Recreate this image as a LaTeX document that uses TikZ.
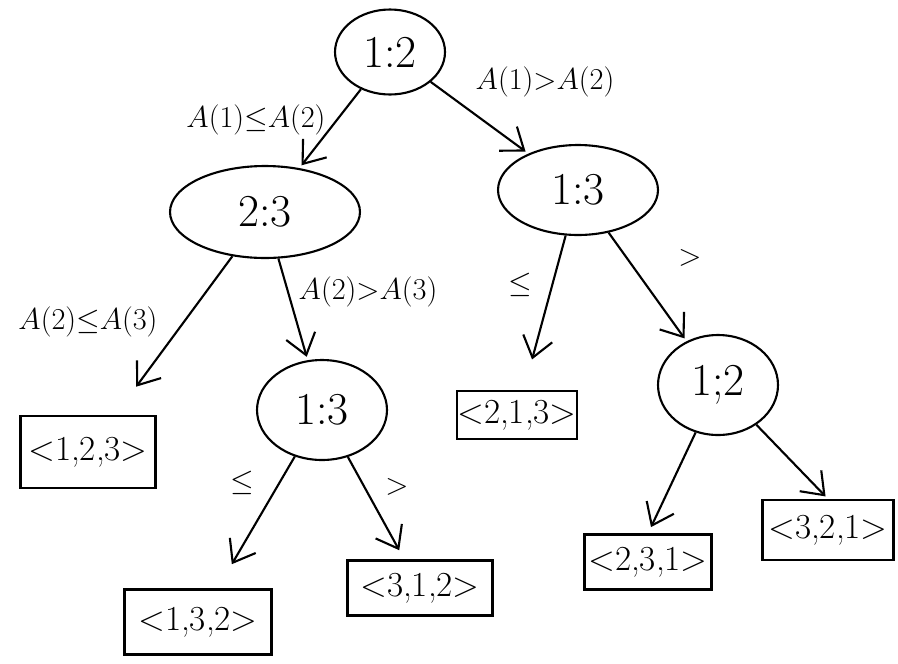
\documentclass[tikz,border=0pt]{standalone}
\usetikzlibrary{shapes.geometric,arrows.meta}
\begin{document}
\begin{tikzpicture}[x=0.02cm,y=-0.02cm,
  line width=1.2pt,
  ell/.style={draw,ellipse,inner sep=0pt,font=\fontsize{26}{28}\selectfont},
  leaf/.style={draw,rectangle,inner sep=0pt,font=\fontsize{20}{22}\selectfont},
  lbl/.style={font=\fontsize{17}{19}\selectfont},
  arr/.style={-{Straight Barb[length=4mm,width=6mm]},shorten >=2pt}]
\useasboundingbox (0,0) rectangle (898,663);
% decision nodes
\node[ell,minimum width=2.2cm,minimum height=1.7cm] (root) at (390,52) {1:2};
\node[ell,minimum width=3.8cm,minimum height=1.84cm] (n23) at (265,212) {2:3};
\node[ell,minimum width=3.2cm,minimum height=1.8cm] (n13r) at (578,190) {1:3};
\node[ell,minimum width=2.6cm,minimum height=2.0cm] (n13l) at (322,410) {1:3};
\node[ell,minimum width=2.4cm,minimum height=2.0cm] (n12) at (718,385) {1;2};
% leaves
\node[leaf,minimum width=2.7cm,minimum height=1.44cm] (l123) at (88,452) {<1,2,3>};
\node[leaf,minimum width=2.3cm,minimum height=0.96cm] (l213) at (517,415) {<2,1,3>};
\node[leaf,minimum width=2.94cm,minimum height=1.3cm] (l132) at (198,622) {<1,3,2>};
\node[leaf,minimum width=2.9cm,minimum height=1.1cm] (l312) at (420,588) {<3,1,2>};
\node[leaf,minimum width=2.54cm,minimum height=1.1cm] (l231) at (648,562) {<2,3,1>};
\node[leaf,minimum width=2.62cm,minimum height=1.2cm] (l321) at (828,530) {<3,2,1>};
% edges
\draw[arr] (root) -- (n23);
\draw[arr] (root) -- (n13r);
\draw[arr,shorten >=20pt] (n23) -- (l123);
\draw[arr] (n23) -- (n13l);
\draw[arr,shorten >=18pt] (n13r) -- (l213);
\draw[arr] (n13r) -- (n12);
\draw[arr,shorten >=16pt] (n13l) -- (l132);
\draw[arr,shorten >=6pt] (n13l) -- (l312);
\draw[arr,shorten >=4pt] (n12) -- (l231.north);
\draw[arr,shorten >=2pt] (n12) -- (l321.north);
% labels
\node[lbl] (t1) at (256,120) {$A(1){\leq}A(2)$};
\node[lbl] (t2) at (545,82) {$A(1){>}A(2)$};
\node[lbl] (t3) at (88,322) {$A(2){\leq}A(3)$};
\node[lbl] (t4) at (368,292) {$A(2){>}A(3)$};
\node[lbl] (t5) at (520,285) {$\leq$};
\node[lbl] (t6) at (690,258) {$>$};
\node[lbl] (t7) at (242,483) {$\leq$};
\node[lbl] (t8) at (397,487) {$>$};
\end{tikzpicture}
\end{document}
